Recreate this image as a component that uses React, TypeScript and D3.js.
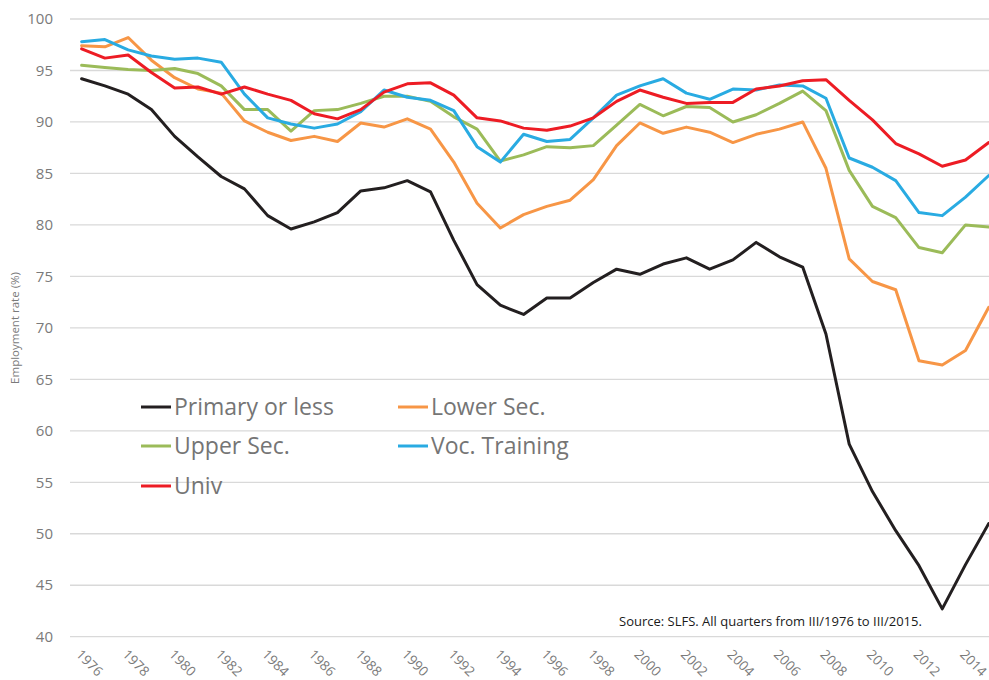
import React from "react";
import * as d3 from "d3";

const years = [
  1976, 1977, 1978, 1979, 1980, 1981, 1982, 1983, 1984, 1985,
  1986, 1987, 1988, 1989, 1990, 1991, 1992, 1993, 1994, 1995,
  1996, 1997, 1998, 1999, 2000, 2001, 2002, 2003, 2004, 2005,
  2006, 2007, 2008, 2009, 2010, 2011, 2012, 2013, 2014, 2015,
];

const primaryOrLess = [
  94.2, 93.5, 92.7, 91.2, 88.6, 86.6, 84.7, 83.5, 80.9, 79.6,
  80.3, 81.2, 83.3, 83.6, 84.3, 83.2, 78.5, 74.2, 72.2, 71.3,
  72.9, 72.9, 74.4, 75.7, 75.2, 76.2, 76.8, 75.7, 76.6, 78.3,
  76.9, 75.9, 69.4, 58.7, 54.1, 50.3, 46.9, 42.7, 47.0, 51.0,
];
const lowerSec = [
  97.4, 97.3, 98.2, 96.0, 94.3, 93.2, 92.8, 90.1, 89.0, 88.2,
  88.6, 88.1, 89.9, 89.5, 90.3, 89.3, 86.1, 82.1, 79.7, 81.0,
  81.8, 82.4, 84.4, 87.7, 89.9, 88.9, 89.5, 89.0, 88.0, 88.8,
  89.3, 90.0, 85.5, 76.7, 74.5, 73.7, 66.8, 66.4, 67.8, 72.0,
];
const upperSec = [
  95.5, 95.3, 95.1, 95.0, 95.2, 94.7, 93.5, 91.2, 91.2, 89.1,
  91.1, 91.2, 91.8, 92.5, 92.5, 92.0, 90.5, 89.3, 86.2, 86.8,
  87.6, 87.5, 87.7, 89.7, 91.7, 90.6, 91.5, 91.4, 90.0, 90.7,
  91.8, 93.0, 91.1, 85.3, 81.8, 80.7, 77.8, 77.3, 80.0, 79.8,
];
const vocTraining = [
  97.8, 98.0, 97.0, 96.4, 96.1, 96.2, 95.8, 92.7, 90.4, 89.8,
  89.4, 89.8, 91.0, 93.1, 92.4, 92.1, 91.1, 87.6, 86.1, 88.8,
  88.1, 88.3, 90.4, 92.6, 93.5, 94.2, 92.8, 92.2, 93.2, 93.1,
  93.6, 93.5, 92.3, 86.5, 85.6, 84.3, 81.2, 80.9, 82.7, 84.8,
];
const univ = [
  97.1, 96.2, 96.5, 94.8, 93.3, 93.4, 92.7, 93.4, 92.7, 92.1,
  90.8, 90.3, 91.2, 92.9, 93.7, 93.8, 92.6, 90.4, 90.1, 89.4,
  89.2, 89.6, 90.4, 92.0, 93.1, 92.4, 91.8, 91.9, 91.9, 93.2,
  93.5, 94.0, 94.1, 92.1, 90.2, 87.9, 86.9, 85.7, 86.3, 88.0,
];

const seriesNames = ["Primary or less", "Lower Sec.", "Upper Sec.", "Voc. Training", "Univ"];
const seriesColors = ["#231f20", "#f79646", "#9bbb59", "#29abe2", "#ed1c24"];
const seriesValues = [primaryOrLess, lowerSec, upperSec, vocTraining, univ];

const yTicks = [40, 45, 50, 55, 60, 65, 70, 75, 80, 85, 90, 95, 100];
const xTickLabels = [
  1976, 1978, 1980, 1982, 1984, 1986, 1988, 1990, 1992, 1994,
  1996, 1998, 2000, 2002, 2004, 2006, 2008, 2010, 2012, 2014,
];

const yTitle = "Employment rate (%)";
const sourceNote = "Source: SLFS. All quarters from III/1976 to III/2015.";

const W = 989;
const H = 680;
const FONT = "'Open Sans', 'Noto Sans', sans-serif";

export default function App() {
  const x = d3.scaleBand<number>().domain(years).range([70, 1000.4]).padding(0);
  const xc = (yr: number) => (x(yr) as number) + x.bandwidth() / 2;
  const y = d3.scaleLinear().domain([40, 100]).range([636.7, 19]);

  const line = d3
    .line<number>()
    .x((_, i) => xc(years[i]))
    .y((d) => y(d));

  const legendPos = [
    { lx: 141, ly: 407 },
    { lx: 398, ly: 407 },
    { lx: 141, ly: 446 },
    { lx: 398, ly: 446 },
    { lx: 141, ly: 486 },
  ];

  return (
    <svg
      width={W}
      height={H}
      style={{ position: "absolute", left: 0, top: 0, display: "block", background: "#fff" }}
      fontFamily={FONT}
    >
      {/* gridlines */}
      {yTicks.map((t) => (
        <line key={t} x1={70} x2={W} y1={y(t)} y2={y(t)} stroke="#d9d9d9" strokeWidth={1.3} />
      ))}
      {/* y labels */}
      {yTicks.map((t) => (
        <text key={"l" + t} x={53} y={y(t)} dy="0.35em" textAnchor="end" fontSize={15} fill="#7a7a7a">
          {t}
        </text>
      ))}
      {/* y title */}
      <text
        transform={`translate(19,328) rotate(-90)`}
        textAnchor="middle"
        fontSize={11.5}
        fill="#7a7a7a"
      >
        {yTitle}
      </text>
      {/* x labels */}
      {xTickLabels.map((yr) => (
        <text
          key={"x" + yr}
          transform={`translate(${xc(yr) - 3},652) rotate(45)`}
          textAnchor="start"
          dy="0.35em"
          fontSize={13.5}
          fill="#7a7a7a"
        >
          {yr}
        </text>
      ))}
      {/* lines */}
      {seriesValues.map((vals, i) => (
        <path
          key={seriesNames[i]}
          d={line(vals) as string}
          fill="none"
          stroke={seriesColors[i]}
          strokeWidth={3}
          strokeLinejoin="round"
          strokeLinecap="round"
        />
      ))}
      {/* legend */}
      {seriesNames.map((n, i) => (
        <g key={"lg" + n}>
          <line
            x1={legendPos[i].lx}
            x2={legendPos[i].lx + 30}
            y1={legendPos[i].ly}
            y2={legendPos[i].ly}
            stroke={seriesColors[i]}
            strokeWidth={3}
          />
          <text x={legendPos[i].lx + 33} y={legendPos[i].ly} dy="0.35em" fontSize={23} fill="#757575">
            {n}
          </text>
        </g>
      ))}
      {/* source */}
      <text x={619} y={626} fontSize={13} fill="#1a1a1a">
        {sourceNote}
      </text>
    </svg>
  );
}
